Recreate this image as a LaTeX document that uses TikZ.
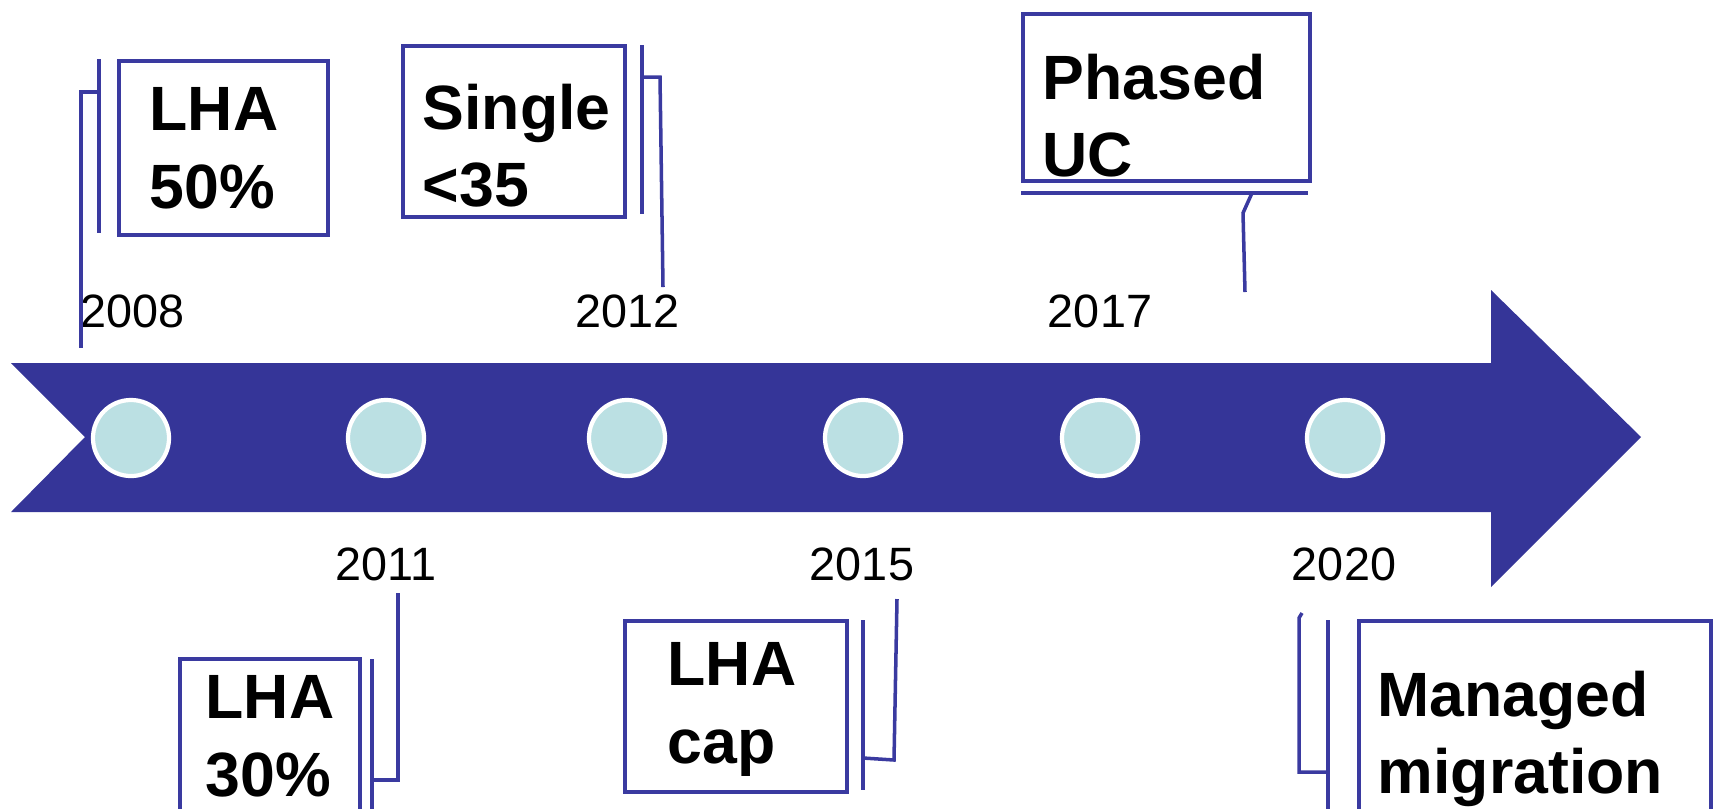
\documentclass[tikz,border=0pt]{standalone}
\usepackage{fontspec}
\setmainfont{Liberation Sans}
\definecolor{arrowblue}{RGB}{53,53,152}
\definecolor{lineblue}{RGB}{58,58,160}
\definecolor{dotfill}{RGB}{187,224,227}
\tikzset{
  dot/.style={circle, fill=dotfill, draw=white, line width=1.2pt, minimum size=0.76cm, inner sep=0pt},
  year/.style={inner sep=0pt, font=\fontsize{13.3}{16}\selectfont},
  box/.style={draw=lineblue, line width=1.1pt, inner sep=0pt, anchor=north west},
  lead/.style={draw=lineblue, line width=1pt},
  boxtext/.style={inner sep=0pt, anchor=north west, align=left, font=\fontsize{17.8}{22}\selectfont\bfseries}
}
\begin{document}
\begin{tikzpicture}[x=0.01cm, y=-0.01cm]
  \clip (0,0) rectangle (1715,808);
  % timeline arrow
  \fill[arrowblue] (11,363) -- (1491,363) -- (1491,290) -- (1641,437) -- (1491,587)
    -- (1491,512) -- (11,512) -- (85,437) -- cycle;
  \node[dot] (c2008) at (131,438) {};
  \node[dot] (c2011) at (386,438) {};
  \node[dot] (c2012) at (627,438) {};
  \node[dot] (c2015) at (863,438) {};
  \node[dot] (c2017) at (1100,438) {};
  \node[dot] (c2020) at (1345,438) {};
  % years
  \node[year] (y2008) at (133,311) {2008};
  \node[year] (y2012) at (628,311) {2012};
  \node[year] (y2017) at (1100,311) {2017};
  \node[year] (y2011) at (386,564) {2011};
  \node[year] (y2015) at (862,564) {2015};
  \node[year] (y2020) at (1344,564) {2020};
  % callouts above
  \node[box, minimum width=2.09cm, minimum height=1.74cm] (b2008) at (117,59) {};
  \draw[lead] (99,59) -- (99,233);
  \draw[lead] (99,92) -- (81,92) -- (81,348);
  \node[boxtext] (t2008) at (149,87) {LHA\\50\%};
  \node[box, minimum width=2.22cm, minimum height=1.71cm] (b2012) at (401,44) {};
  \draw[lead] (642,45) -- (642,214);
  \draw[lead] (642,77) -- (660,77) -- (663,287);
  \node[boxtext] (t2012) at (422,83) {Single\\<35};
  \node[box, minimum width=2.87cm, minimum height=1.67cm] (b2017) at (1021,12) {};
  \draw[lead] (1021,193) -- (1308,193);
  \draw[lead] (1252,193) -- (1243,213) -- (1245,292);
  \node[boxtext] (t2017) at (1042,53) {Phased\\UC};
  % callouts below
  \node[box, minimum width=1.80cm, minimum height=1.80cm] (b2011) at (178,657) {};
  \draw[lead] (372,659) -- (372,840);
  \draw[lead] (372,780) -- (398,780) -- (398,593);
  \node[boxtext] (t2011) at (205,675) {LHA\\30\%};
  \node[box, minimum width=2.22cm, minimum height=1.71cm] (b2015) at (623,619) {};
  \draw[lead] (863,620) -- (863,790);
  \draw[lead] (863,758) -- (894,760) -- (897,599);
  \node[boxtext] (t2015) at (667,642) {LHA\\cap};
  \node[box, minimum width=3.52cm, minimum height=2.20cm] (b2020) at (1357,619) {};
  \draw[lead] (1328,620) -- (1328,840);
  \draw[lead] (1328,772) -- (1299,772) -- (1299,618) -- (1302,613);
  \node[boxtext] (t2020) at (1377,670) {Managed\\migration};
\end{tikzpicture}
\end{document}
